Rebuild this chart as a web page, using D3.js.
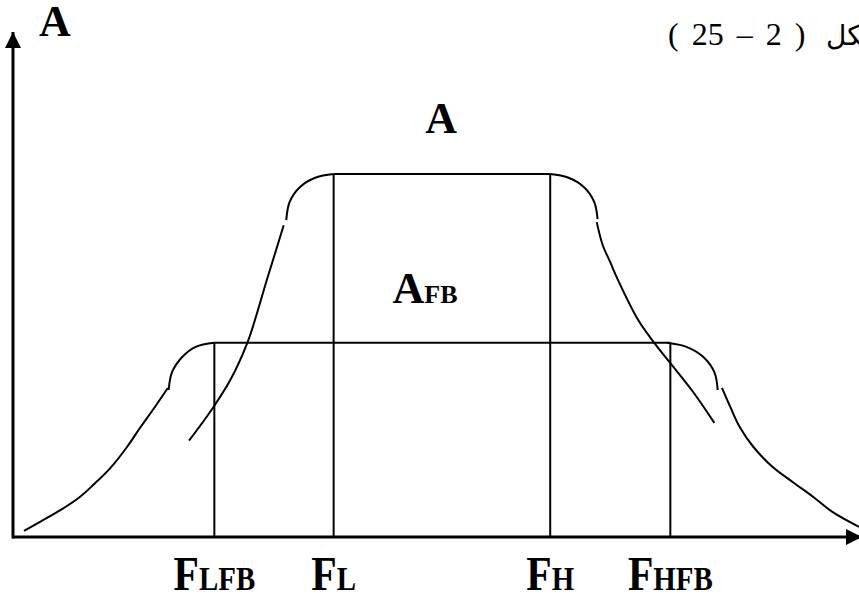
<!DOCTYPE html>
<html>
<head>
<meta charset="utf-8">
<script src="https://cdn.jsdelivr.net/npm/d3@7"></script>
<style>
  html, body { margin: 0; padding: 0; background: #fff; }
  svg { display: block; }
</style>
</head>
<body>
<div id="chart"></div>
<script>
// Frequency (x) and amplitude (y) in arbitrary units, 0..100
const cutoffNames = ["LFB", "L", "H", "HFB"];
const cutoffFreqs = [23.8, 37.9, 63.5, 77.7];

const mainGain = 71.6; // A (without feedback)
const fbGain = 38.3;   // AFB (with feedback)

// curve pieces: [freq, amplitude]
const mainLeftCorner = [[37.9, 71.6], [35.8, 70.9], [33.9, 69.0], [32.7, 66.1], [32.3, 62.5]];
const mainLeftSlope = [[32.0, 61.5], [31.1, 56.6], [30.0, 50.7], [28.6, 42.8], [27.7, 38.3], [25.7, 31.0], [23.6, 25.4], [20.8, 19.0]];
const mainRightCorner = [[63.5, 71.6], [65.6, 70.9], [67.5, 69.0], [68.7, 66.1], [69.1, 62.7]];
const mainRightSlope = [[69.0, 62.1], [69.7, 57.6], [70.6, 54.2], [71.4, 51.1], [73.9, 42.8], [75.8, 38.3], [77.7, 34.3], [80.4, 28.6], [82.9, 22.5]];

const fbLeftCorner = [[23.8, 38.3], [21.6, 37.5], [20.0, 35.5], [18.8, 32.5], [18.4, 29.0]];
const fbLeftSlope = [[18.3, 29.4], [16.5, 25.0], [15.0, 21.5], [13.5, 17.8], [11.5, 13.6], [9.5, 10.3], [7.9, 7.9], [5.6, 5.3], [3.2, 3.0], [1.3, 1.2]];
const fbRightCorner = [[77.3, 38.3], [79.6, 37.5], [81.6, 35.5], [82.9, 32.5], [83.3, 29.0]];
const fbRightSlope = [[83.8, 29.4], [84.8, 25.6], [85.9, 21.7], [87.5, 17.8], [89.8, 13.8], [92.2, 10.8], [94.6, 7.9], [96.9, 4.9], [100, 2.0]];

const width = 859;
const height = 601;
const margin = { top: 30, right: 0, bottom: 64, left: 13 };
const serif = "'Liberation Serif', 'Times New Roman', serif";

const svg = d3.select("#chart")
  .append("svg")
  .attr("width", width)
  .attr("height", height)
  .attr("viewBox", [0, 0, width, height]);

const x = d3.scaleLinear().domain([0, 100]).range([margin.left, width - margin.right]);
const y = d3.scaleLinear().domain([0, 100]).range([height - margin.bottom, margin.top]);

// arrow heads
const defs = svg.append("defs");
defs.append("marker")
  .attr("id", "arrow")
  .attr("markerUnits", "userSpaceOnUse")
  .attr("viewBox", "0 0 16 16")
  .attr("refX", 16)
  .attr("refY", 8)
  .attr("markerWidth", 16)
  .attr("markerHeight", 16)
  .attr("orient", "auto")
  .append("path")
  .attr("d", "M0,0L16,8L0,16Z")
  .attr("fill", "#000");

// axes
svg.append("line")
  .attr("x1", x(0)).attr("y1", y(0))
  .attr("x2", width + 3).attr("y2", y(0))
  .attr("stroke", "#000").attr("stroke-width", 3)
  .attr("marker-end", "url(#arrow)");
svg.append("line")
  .attr("x1", x(0)).attr("y1", y(0) + 1.5)
  .attr("x2", x(0)).attr("y2", margin.top + 2)
  .attr("stroke", "#000").attr("stroke-width", 3)
  .attr("marker-end", "url(#arrow)");

const stroke = (sel) => sel.attr("stroke", "#000").attr("stroke-width", 2).attr("fill", "none");

// cutoff verticals
const plateauFor = (name) => (name === "L" || name === "H") ? mainGain : fbGain;
svg.append("g")
  .selectAll("line")
  .data(cutoffNames)
  .join("line")
  .attr("x1", (d, i) => x(cutoffFreqs[i]))
  .attr("x2", (d, i) => x(cutoffFreqs[i]))
  .attr("y1", y(0))
  .attr("y2", (d) => y(plateauFor(d)))
  .call(stroke);

// plateaus
svg.append("line")
  .attr("x1", x(cutoffFreqs[1])).attr("x2", x(cutoffFreqs[2]))
  .attr("y1", y(mainGain)).attr("y2", y(mainGain))
  .call(stroke);
svg.append("line")
  .attr("x1", x(cutoffFreqs[0])).attr("x2", x(cutoffFreqs[3]))
  .attr("y1", y(fbGain)).attr("y2", y(fbGain))
  .call(stroke);

// response curves
const line = d3.line()
  .x((d) => x(d[0]))
  .y((d) => y(d[1]))
  .curve(d3.curveCatmullRom.alpha(0.5));

const pieces = [
  mainLeftCorner, mainLeftSlope, mainRightCorner, mainRightSlope,
  fbLeftCorner, fbLeftSlope, fbRightCorner, fbRightSlope,
];
svg.append("g")
  .selectAll("path")
  .data(pieces)
  .join("path")
  .attr("d", line)
  .call(stroke);

// cutoff labels
const labels = svg.append("g")
  .attr("font-family", serif)
  .attr("font-weight", "bold")
  .selectAll("text")
  .data(cutoffNames)
  .join("text")
  .attr("text-anchor", "middle")
  .attr("transform", (d, i) => `translate(${x(cutoffFreqs[i])},${y(0) + 53}) scale(0.85,1)`);
labels.append("tspan").attr("font-size", 49).text("F");
labels.append("tspan").attr("font-size", 34).text((d) => d);

// gain labels
svg.append("text")
  .attr("x", x(0) + 26)
  .attr("y", margin.top + 6)
  .attr("font-family", serif)
  .attr("font-weight", "bold")
  .attr("font-size", 44)
  .text("A");

svg.append("text")
  .attr("x", x(50.6))
  .attr("y", y(79.7))
  .attr("text-anchor", "middle")
  .attr("font-family", serif)
  .attr("font-weight", "bold")
  .attr("font-size", 44)
  .text("A");

const afb = svg.append("text")
  .attr("x", x(48.7))
  .attr("y", y(46.2))
  .attr("text-anchor", "middle")
  .attr("font-family", serif)
  .attr("font-weight", "bold");
afb.append("tspan").attr("font-size", 44).text("A");
afb.append("tspan").attr("font-size", 26).text("FB");

// figure caption "شكل ( 2 – 25 )", right-to-left, cut by the right edge as in the source
svg.append("text")
  .attr("x", 668)
  .attr("y", 45)
  .attr("direction", "rtl")
  .attr("text-anchor", "end")
  .attr("font-family", serif)
  .attr("font-size", 32)
  .attr("word-spacing", 5)
  .text("( 2 – 25 )");
svg.append("text")
  .attr("x", 826)
  .attr("y", 45)
  .attr("direction", "rtl")
  .attr("text-anchor", "end")
  .attr("font-family", "'DejaVu Sans', sans-serif")
  .attr("font-size", 28)
  .text("شكل");
</script>
</body>
</html>
